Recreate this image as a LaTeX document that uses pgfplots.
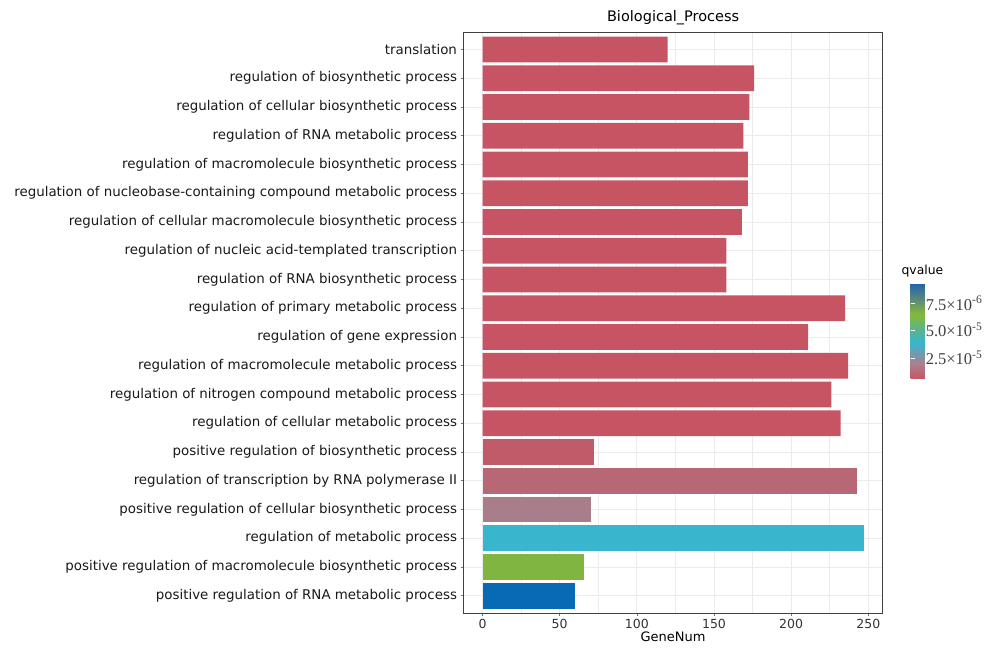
\documentclass[border=0pt]{standalone}
\usepackage{pgfplots}
\pgfplotsset{compat=1.18}
\usepackage{pgfplotstable}
\usepackage{fontspec}
\setmainfont{DejaVu Sans}
\newfontfamily\numserif{Liberation Serif}

\definecolor{qred}{RGB}{199,84,99}
\definecolor{qredb}{RGB}{192,92,106}
\definecolor{qrose}{RGB}{184,104,116}
\definecolor{qmauve}{RGB}{168,126,139}
\definecolor{qcyan}{RGB}{57,181,205}
\definecolor{qgreen}{RGB}{128,181,65}
\definecolor{qblue}{RGB}{8,106,180}
\definecolor{gridgray}{RGB}{235,235,235}

% gene counts of the most significant terms (row index from the top)
\pgfplotstableread{
idx genes
0 120
1 176
2 173
3 169
4 172
5 172
6 168
7 158
8 158
9 235
10 211
11 237
12 226
13 232
}\redterms

\begin{document}
\begin{tikzpicture}[x=1pt,y=1pt]
\useasboundingbox (0,0) rectangle (995,648);
\begin{axis}[
  at={(463.5pt,35pt)}, anchor=south west,
  scale only axis, width=419.2pt, height=580.7pt,
  xmin=-12.35, xmax=259.35, ymin=-0.6, ymax=19.6, y dir=reverse,
  xtick={0,50,...,250}, minor xtick={25,75,...,225},
  ytick={0,...,19},
  xtick pos=bottom, ytick pos=left,
  yticklabels={
    translation,
    regulation of biosynthetic process,
    regulation of cellular biosynthetic process,
    regulation of RNA metabolic process,
    regulation of macromolecule biosynthetic process,
    regulation of nucleobase-containing compound metabolic process,
    regulation of cellular macromolecule biosynthetic process,
    regulation of nucleic acid-templated transcription,
    regulation of RNA biosynthetic process,
    regulation of primary metabolic process,
    regulation of gene expression,
    regulation of macromolecule metabolic process,
    regulation of nitrogen compound metabolic process,
    regulation of cellular metabolic process,
    positive regulation of biosynthetic process,
    regulation of transcription by RNA polymerase II,
    positive regulation of cellular biosynthetic process,
    regulation of metabolic process,
    positive regulation of macromolecule biosynthetic process,
    positive regulation of RNA metabolic process},
  xmajorgrids, ymajorgrids, xminorgrids,
  major grid style={draw=gridgray, line width=0.9pt},
  minor grid style={draw=gridgray, line width=0.5pt},
  axis line style={draw=black!75, line width=0.8pt},
  tick align=outside, major tick length=3pt, minor tick length=0pt,
  tick style={draw=black!55, line width=0.6pt},
  yticklabel style={font=\fontsize{13.4}{14}\selectfont, text=black!90},
  xticklabel style={font=\fontsize{12.5}{13}\selectfont, text=black!80},
  /pgf/number format/assume math mode=true,
  title={Biological\_Process},
  title style={font=\fontsize{14.5}{15}\selectfont, yshift=-2pt},
  xlabel={GeneNum},
  xlabel style={font=\fontsize{13}{14}\selectfont, yshift=4pt},
  xbar, bar width=0.9, bar shift=0pt,
]
\addplot[xbar, bar shift=0pt, fill=qred, draw=none] table[x=genes, y=idx] {\redterms};
\addplot[xbar, bar shift=0pt, fill=qredb, draw=none] coordinates {(72,14)};
\addplot[xbar, bar shift=0pt, fill=qrose, draw=none] coordinates {(243,15)};
\addplot[xbar, bar shift=0pt, fill=qmauve, draw=none] coordinates {(70,16)};
\addplot[xbar, bar shift=0pt, fill=qcyan, draw=none] coordinates {(247,17)};
\addplot[xbar, bar shift=0pt, fill=qgreen, draw=none] coordinates {(66,18)};
\addplot[xbar, bar shift=0pt, fill=qblue, draw=none] coordinates {(60,19)};
\end{axis}
% colour scale for the q-values
\node[font=\fontsize{12.4}{13}\selectfont, anchor=base west] at (898,373) {qvalue};
\pgfplotscolorbardrawstandalone[
  colormap={qv}{rgb255(0)=(200,84,100); rgb255(0.16)=(170,128,142); rgb255(0.375)=(55,181,207); rgb255(0.52)=(90,180,140); rgb255(0.67)=(135,185,55); rgb255(0.82)=(95,140,120); rgb255(1)=(30,100,172)},
  point meta min=0, point meta max=1,
  colorbar style={
    at={(902pt,269pt)}, anchor=south west,
    scale only axis, width=19.7pt, height=96pt,
    axis line style={draw=none},
    ytick={0.22,0.51,0.79},
    yticklabels={2.5×10\textsuperscript{-5}, 5.0×10\textsuperscript{-5}, 7.5×10\textsuperscript{-6}},
    yticklabel style={font=\numserif\fontsize{16.5}{17}\selectfont, text=black!75, xshift=-8pt},
    major tick length=4pt, tick align=inside,
    ytick style={draw=white, line width=0.7pt},
  }]
\end{tikzpicture}
\end{document}
